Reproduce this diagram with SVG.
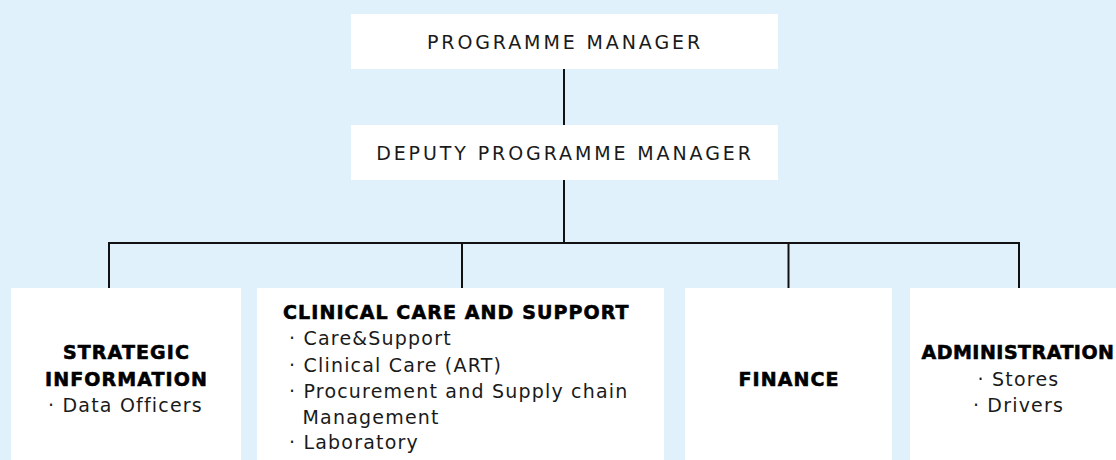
<svg xmlns="http://www.w3.org/2000/svg" width="1116" height="460" viewBox="0 0 1116 460">
  <style>
    .box { fill: #ffffff; }
    .link { stroke: #111111; stroke-width: 2; fill: none; }
    .t { font-family: "DejaVu Sans", "Liberation Sans", sans-serif; font-size: 19px; letter-spacing: 1.2px; fill: #1a1a1a; }
    .caps { letter-spacing: 2.9px; }
    .h { font-family: "DejaVu Sans", "Liberation Sans", sans-serif; font-size: 19px; font-weight: bold; letter-spacing: 1.1px; fill: #000000; stroke: #000000; stroke-width: 0.6px; }
    .c { text-anchor: middle; }
  </style>

  <rect width="1116" height="460" fill="#e0f1fb"/>

  <g id="connectors">
    <line class="link" x1="564" y1="69" x2="564" y2="125"/>
    <line class="link" x1="564" y1="180" x2="564" y2="243"/>
    <polyline class="link" points="109,288 109,243 1019,243 1019,288"/>
    <line class="link" x1="462" y1="243" x2="462" y2="288"/>
    <line class="link" x1="788.5" y1="243" x2="788.5" y2="288"/>
  </g>

  <g id="programme-manager">
    <rect class="box" x="351" y="14" width="427" height="55"/>
    <text class="t caps c" x="565" y="49">PROGRAMME MANAGER</text>
  </g>

  <g id="deputy-programme-manager">
    <rect class="box" x="351" y="125" width="427" height="55"/>
    <text class="t caps c" x="565" y="160">DEPUTY PROGRAMME MANAGER</text>
  </g>

  <g id="strategic-information">
    <rect class="box" x="11" y="288" width="230" height="172"/>
    <text class="h c" x="126.5" y="359">STRATEGIC</text>
    <text class="h c" x="126.5" y="386">INFORMATION</text>
    <text class="t c" x="125.5" y="412">· Data Officers</text>
  </g>

  <g id="clinical-care-and-support">
    <rect class="box" x="257" y="288" width="407" height="172"/>
    <text class="h" x="283" y="319">CLINICAL CARE AND SUPPORT</text>
    <text class="t" x="289" y="345">· Care&amp;Support</text>
    <text class="t" x="289" y="371.5">· Clinical Care (ART)</text>
    <text class="t" x="289" y="398">· Procurement and Supply chain</text>
    <text class="t" x="302.5" y="423.5">Management</text>
    <text class="t" x="289" y="448.5">· Laboratory</text>
  </g>

  <g id="finance">
    <rect class="box" x="685" y="288" width="207" height="172"/>
    <text class="h c" x="789" y="386">FINANCE</text>
  </g>

  <g id="administration">
    <rect class="box" x="910" y="288" width="220" height="172"/>
    <text class="h c" x="1018" y="359" style="letter-spacing:0.5px">ADMINISTRATION</text>
    <text class="t c" x="1018.5" y="386">· Stores</text>
    <text class="t c" x="1018.5" y="412">· Drivers</text>
  </g>
</svg>
